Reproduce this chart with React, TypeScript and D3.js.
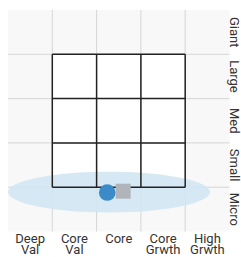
import * as d3 from "d3";
import { useEffect, useRef } from "react";

// style / size box categories
const styles = ["Deep\nVal", "Core\nVal", "Core", "Core\nGrwth", "High\nGrwth"];
const sizes = ["Giant", "Large", "Med", "Small", "Micro"];

// the 3x3 box drawn in black (column / row indices)
const boxCols = [1, 2, 3];
const boxRows = [1, 2, 3];

// holdings zone ellipse: center (x, y) and radii, in grid units
const zone = { cx: 2.28, cy: 4.11, rx: 2.28, ry: 0.46 };

// fund centroid (circle) and benchmark (square), in grid units
const fundPoint = { x: 2.24, y: 4.12 };
const benchPoint = { x: 2.6, y: 4.09 };

const labelFont = "Roboto, sans-serif";

const App = () => {
    const svgRef = useRef<SVGSVGElement>(null);

    useEffect(() => {
        const width = 241;
        const height = 257;
        const svg = d3.select(svgRef.current).attr("width", width).attr("height", height);
        svg.selectAll("*").remove();

        const x = d3.scaleLinear().domain([0, 5]).range([8, 229.5]);
        const y = d3.scaleLinear().domain([0, 5]).range([10, 231.5]);
        const xb = d3.scaleBand().domain(styles).range([8, 229.5]);
        const yb = d3.scaleBand().domain(sizes).range([10, 231.5]);

        // background
        svg.append("rect")
            .attr("x", x(0)).attr("y", y(0))
            .attr("width", x(5) - x(0)).attr("height", y(5) - y(0))
            .attr("fill", "#f8f8f8");

        // white cells inside the box
        const bw = x(boxCols[boxCols.length - 1] + 1) - x(boxCols[0]);
        const bh = y(boxRows[boxRows.length - 1] + 1) - y(boxRows[0]);
        svg.append("rect")
            .attr("x", x(boxCols[0])).attr("y", y(boxRows[0]))
            .attr("width", bw).attr("height", bh)
            .attr("fill", "#fff");

        // light grid lines
        const g = svg.append("g").attr("stroke", "#d6d6d6").attr("stroke-width", 1);
        d3.range(1, 5).forEach((i) => {
            g.append("line").attr("x1", x(i)).attr("x2", x(i)).attr("y1", y(0)).attr("y2", y(5));
            g.append("line").attr("x1", x(0)).attr("x2", x(5)).attr("y1", y(i)).attr("y2", y(i));
        });

        // holdings zone
        svg.append("ellipse")
            .attr("cx", x(zone.cx)).attr("cy", y(zone.cy))
            .attr("rx", x(zone.rx) - x(0)).attr("ry", y(zone.ry) - y(0))
            .attr("fill", "#d2e6f2").attr("fill-opacity", 0.9);

        // black box lines
        const b = svg.append("g").attr("stroke", "#222").attr("stroke-width", 1.5);
        const c0 = boxCols[0], c1 = boxCols[boxCols.length - 1] + 1;
        const r0 = boxRows[0], r1 = boxRows[boxRows.length - 1] + 1;
        d3.range(c0, c1 + 1).forEach((i) => {
            b.append("line").attr("x1", x(i)).attr("x2", x(i)).attr("y1", y(r0)).attr("y2", y(r1));
        });
        d3.range(r0, r1 + 1).forEach((i) => {
            b.append("line").attr("x1", x(c0)).attr("x2", x(c1)).attr("y1", y(i)).attr("y2", y(i));
        });

        // benchmark square
        const s = 15;
        svg.append("rect")
            .attr("x", x(benchPoint.x) - s / 2).attr("y", y(benchPoint.y) - s / 2)
            .attr("width", s).attr("height", s)
            .attr("fill", "#b1b4b9");

        // fund circle
        svg.append("circle")
            .attr("cx", x(fundPoint.x)).attr("cy", y(fundPoint.y))
            .attr("r", 8.3)
            .attr("fill", "#3a8bc8");

        // right size labels (rotated)
        svg.selectAll(".size")
            .data(sizes)
            .join("text")
            .attr("class", "size")
            .attr("transform", (d) => `translate(229.5,${(yb(d) as number) + yb.bandwidth() / 2}) rotate(90)`)
            .attr("text-anchor", "middle")
            .attr("font-family", labelFont)
            .attr("font-size", 13)
            .attr("fill", "#333")
            .text((d) => d);

        // bottom style labels
        const lab = svg.selectAll(".style")
            .data(styles)
            .join("text")
            .attr("class", "style")
            .attr("text-anchor", "middle")
            .attr("font-family", labelFont)
            .attr("font-size", 13)
            .attr("fill", "#333");
        lab.selectAll("tspan")
            .data((d) => d.split("\n").map((t) => ({ t, key: d })))
            .join("tspan")
            .attr("x", (d) => (xb(d.key) as number) + xb.bandwidth() / 2)
            .attr("y", (_d, i) => 243 + i * 10.5)
            .text((d) => d.t);
    }, []);

    return (
        <div style={{ position: "absolute", left: 0, top: 0 }}>
            <svg ref={svgRef} style={{ display: "block" }} />
        </div>
    );
};

export default App;
